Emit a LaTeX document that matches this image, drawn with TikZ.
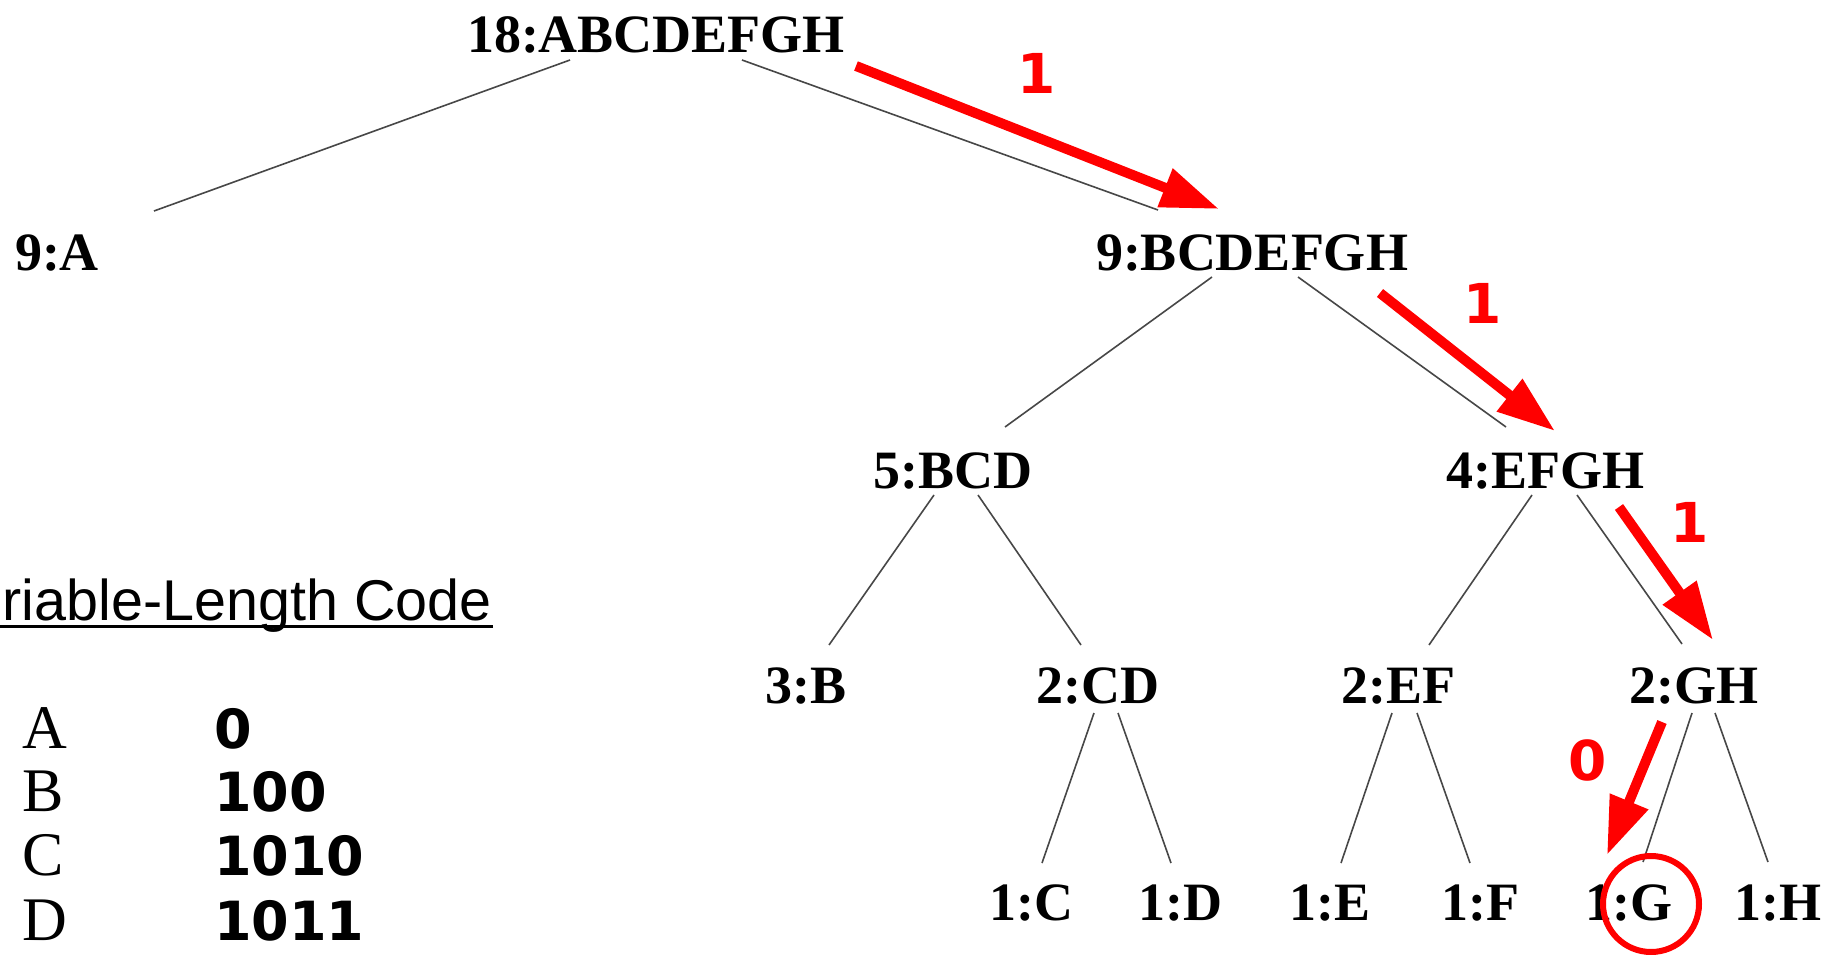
\documentclass[tikz,border=0pt]{standalone}
\usepackage{fontspec}
\setmainfont{Liberation Serif}
\newfontfamily\codefont{DejaVu Sans}
\newfontfamily\titlefont{Liberation Sans}
\usetikzlibrary{arrows.meta,calc}
\begin{document}
\begin{tikzpicture}[x=1pt,y=-1pt,
  lab/.style={font=\fontsize{54}{60}\selectfont\bfseries, inner sep=0pt, anchor=base, text=black},
  edge/.style={draw=black!72, line width=1.6pt},
  hl/.style={draw=red, line width=10pt, -{Triangle[length=58pt,width=39pt]}},
  bit/.style={font=\fontsize{55}{62}\selectfont\codefont\bfseries, text=red, inner sep=0pt, anchor=center},
  sym/.style={font=\fontsize{62}{68}\selectfont, inner sep=0pt, anchor=base west},
  code/.style={font=\fontsize{54}{60}\selectfont\codefont\bfseries, inner sep=0pt, anchor=base west},
  ttl/.style={font=\fontsize{57.5}{64}\selectfont\titlefont, inner sep=0pt, anchor=base east}]
\fill[white] (0,0) rectangle (1840,955);
\useasboundingbox (0,0) rectangle (1840,955);

% tree nodes
\node[lab] (root) at (656,53)  {18:ABCDEFGH};
\node[lab] (nA)   at (57,270)  {9:A};
\node[lab] (n9)   at (1252,270) {9:BCDEFGH};
\node[lab] (n5)   at (953,488) {5:BCD};
\node[lab] (n4)   at (1545,488) {4:EFGH};
\node[lab] (nB)   at (806,703) {3:B};
\node[lab] (nCD)  at (1098,703) {2:CD};
\node[lab] (nEF)  at (1398,703) {2:EF};
\node[lab] (nGH)  at (1694,703) {2:GH};
\node[lab] (nC)   at (1031,920) {1:C};
\node[lab] (nD)   at (1180,920) {1:D};
\node[lab] (nE)   at (1330,920) {1:E};
\node[lab] (nF)   at (1480,920) {1:F};
\node[lab] (nG)   at (1629,920) {1:G};
\node[lab] (nH)   at (1778,920) {1:H};

% tree edges
\draw[edge] ($(root.base)+(-86,7)$) -- ($(nA.base)+(97,-59)$);
\draw[edge] ($(root.base)+(86,7)$)  -- ($(n9.base)+(-94,-60)$);
\draw[edge] ($(n9.base)+(-40,7)$)   -- ($(n5.base)+(52,-61)$);
\draw[edge] ($(n9.base)+(46,7)$)    -- ($(n4.base)+(-39,-61)$);
\draw[edge] ($(n5.base)+(-19,7)$)   -- ($(nB.base)+(23,-58)$);
\draw[edge] ($(n5.base)+(25,7)$)    -- ($(nCD.base)+(-17,-58)$);
\draw[edge] ($(n4.base)+(-13,7)$)   -- ($(nEF.base)+(31,-58)$);
\draw[edge] ($(n4.base)+(32,7)$)    -- ($(nGH.base)+(-12,-59)$);
\draw[edge] ($(nCD.base)+(-4,10)$)  -- ($(nC.base)+(11,-57)$);
\draw[edge] ($(nCD.base)+(20,10)$)  -- ($(nD.base)+(-9,-57)$);
\draw[edge] ($(nEF.base)+(-6,10)$)  -- ($(nE.base)+(11,-57)$);
\draw[edge] ($(nEF.base)+(19,10)$)  -- ($(nF.base)+(-10,-57)$);
\draw[edge] ($(nGH.base)+(-2,10)$)  -- ($(nG.base)+(14,-58)$);
\draw[edge] ($(nGH.base)+(21,10)$)  -- ($(nH.base)+(-10,-58)$);

% highlighted path
\draw[hl] ($(root.base)+(200,13)$) -- ($(n9.base)+(-33,-61)$);
\draw[hl] ($(n9.base)+(128,23)$)   -- ($(n4.base)+(10,-57)$);
\draw[hl] ($(n4.base)+(74,19)$)    -- ($(nGH.base)+(19,-63)$);
\draw[hl] ($(nGH.base)+(-32,19)$)  -- ($(nG.base)+(-22,-65)$);
\node[bit] (b1) at (1037,73)  {1};
\node[bit] (b2) at (1483,303) {1};
\node[bit] (b3) at (1690,522) {1};
\node[bit] (b4) at (1588,760) {0};
\draw[red, line width=6pt] ($(nG.base)+(22,-16)$) circle[radius=48pt];

% legend
\node[ttl] (title) at (492,620) {riable-Length Code};
\draw[line width=3pt] ($(title.base east)+(1,6.5)$) -- ($(title.base west)+(-10,6.5)$);
\node[sym] (sA) at (22,748) {A};
\node[sym] (sB) at (22,811) {B};
\node[sym] (sC) at (22,875) {C};
\node[sym] (sD) at (22,940) {D};
\node[code] (cA) at (214,748) {0};
\node[code] (cB) at (214,811) {100};
\node[code] (cC) at (214,875) {1010};
\node[code] (cD) at (214,940) {1011};
\end{tikzpicture}
\end{document}
